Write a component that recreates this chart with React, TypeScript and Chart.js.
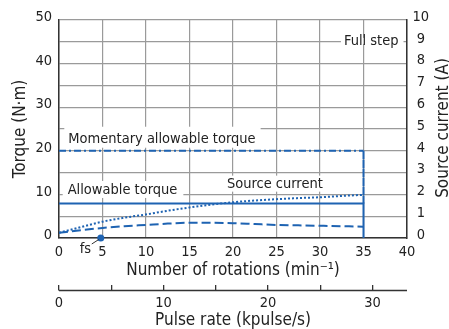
import React, { useEffect, useRef } from 'react';
import { Chart, registerables } from 'chart.js';

Chart.register(...registerables);

// ---- data ----
const rotations = [0, 2.5, 5, 7.5, 10, 12.5, 15, 17.5, 20, 22.5, 25, 27.5, 30, 32.5, 35];
const fullStepTorque = [1.2, 1.8, 2.3, 2.7, 3.0, 3.3, 3.5, 3.5, 3.4, 3.2, 3.0, 2.9, 2.8, 2.7, 2.6];
const sourceCurrent = [0.24, 0.5, 0.75, 0.93, 1.08, 1.25, 1.4, 1.53, 1.64, 1.72, 1.78, 1.83, 1.87, 1.93, 1.98];
const momentaryTorque = 20;
const allowableTorque = 7.9;
const maxRotation = 35;
const fsRotation = 4.8;
const torqueMax = 50;
const currentMax = 10;
const rotationMax = 40;
const pulseRateMax = 33.3;

const BLUE = '#1e63b2';
const TEXT = '#222222';
const GRID = '#9a9a9a';
const AXIS = '#333333';
const FONT = '"Liberation Sans Narrow", "DejaVu Sans Condensed", "Roboto Condensed", Roboto, sans-serif';

const annotationPlugin = {
  id: 'annotations',
  afterDatasetsDraw(chart: any) {
    const { ctx } = chart;
    const xs = chart.scales.x;
    const ys = chart.scales.y;
    const labels = [
      { text: 'Momentary allowable torque', x: 1.07, y: 21.85, box: [-4, -16, 5, 5] },
      { text: 'Allowable torque', x: 1.0, y: 10.1, box: [-5, -13, 6, 4] },
      { text: 'Source current', x: 19.3, y: 11.55, box: [-4, -12, 4, 4] },
      { text: 'Full step', x: 32.75, y: 44.3, box: [-3, -7, 5, -1] },
    ];
    ctx.save();
    ctx.font = `14.5px ${FONT}`;
    ctx.textBaseline = 'alphabetic';
    ctx.textAlign = 'left';
    for (const l of labels) {
      const px = xs.getPixelForValue(l.x);
      const py = ys.getPixelForValue(l.y);
      const w = ctx.measureText(l.text).width;
      ctx.fillStyle = '#ffffff';
      ctx.fillRect(px + l.box[0], py + l.box[1], w - l.box[0] + l.box[2], l.box[3] - l.box[1]);
      ctx.fillStyle = TEXT;
      ctx.fillText(l.text, px, py);
    }
    // fs label with leader line
    const fx = xs.getPixelForValue(fsRotation);
    const fy = ys.getPixelForValue(0);
    ctx.strokeStyle = AXIS;
    ctx.lineWidth = 1;
    ctx.beginPath();
    ctx.moveTo(fx - 2, fy + 1.5);
    ctx.lineTo(fx - 9, fy + 6);
    ctx.stroke();
    ctx.fillStyle = TEXT;
    ctx.fillText('fs', fx - 21, fy + 15);
    ctx.restore();
  },
  afterDraw(chart: any) {
    const { ctx, chartArea } = chart;
    const x2 = chart.scales.x2;
    ctx.save();
    // pulse-rate axis line (ticks point upward)
    ctx.strokeStyle = AXIS;
    ctx.lineWidth = 1.5;
    ctx.beginPath();
    ctx.moveTo(x2.left, x2.top + 5.5);
    ctx.lineTo(x2.right, x2.top + 5.5);
    ctx.stroke();
    // y-axis titles (both read bottom to top)
    const cy = (chartArea.top + chartArea.bottom) / 2;
    ctx.fillStyle = TEXT;
    ctx.font = `17px ${FONT}`;
    ctx.textAlign = 'center';
    ctx.textBaseline = 'alphabetic';
    ctx.translate(25, cy);
    ctx.rotate(-Math.PI / 2);
    ctx.fillText('Torque (N·m)', 0, 0);
    ctx.restore();
    ctx.save();
    ctx.fillStyle = TEXT;
    ctx.font = `17px ${FONT}`;
    ctx.textAlign = 'center';
    ctx.textBaseline = 'alphabetic';
    ctx.translate(447.5, cy - 1);
    ctx.rotate(-Math.PI / 2);
    ctx.fillText('Source current (A)', 0, 0);
    ctx.restore();
  },
};

export default function App() {
  const ref = useRef<HTMLCanvasElement | null>(null);
  useEffect(() => {
    if (!ref.current) return;
    Chart.defaults.font.family = FONT;
    Chart.defaults.color = TEXT;
    const tickFont = { size: 14.5, family: FONT };
    const chart = new Chart(ref.current, {
      type: 'line',
      data: {
        datasets: [
          {
            label: 'Momentary allowable torque',
            data: [
              { x: 0, y: momentaryTorque },
              { x: maxRotation, y: momentaryTorque },
              { x: maxRotation, y: allowableTorque },
            ],
            borderColor: BLUE,
            borderWidth: 2,
            pointRadius: 0,
            yAxisID: 'y',
            segment: { borderDash: (c: any) => (c.p0DataIndex === 0 ? [7, 3, 2, 3] : [6, 3]) },
          },
          {
            label: 'Allowable torque',
            data: [
              { x: 0, y: allowableTorque },
              { x: maxRotation, y: allowableTorque },
              { x: maxRotation, y: 0 },
            ],
            borderColor: BLUE,
            borderWidth: 2,
            pointRadius: 0,
            yAxisID: 'y',
          },
          {
            label: 'Full step torque',
            data: rotations.map((r, i) => ({ x: r, y: fullStepTorque[i] })),
            borderColor: BLUE,
            borderWidth: 2,
            borderDash: [9, 4],
            pointRadius: 0,
            cubicInterpolationMode: 'monotone',
            yAxisID: 'y',
          },
          {
            label: 'Source current',
            data: rotations.map((r, i) => ({ x: r, y: sourceCurrent[i] })),
            borderColor: BLUE,
            borderWidth: 2,
            borderDash: [2, 2],
            pointRadius: 0,
            cubicInterpolationMode: 'monotone',
            yAxisID: 'y1',
          },
          {
            label: 'fs',
            data: [{ x: fsRotation, y: 0 }],
            showLine: false,
            pointRadius: 3.5,
            pointBackgroundColor: BLUE,
            pointBorderWidth: 0,
            yAxisID: 'y',
            clip: false,
          },
        ],
      },
      options: {
        animation: false,
        responsive: false,
        devicePixelRatio: 1,
        layout: { padding: { top: 20, left: 0, right: 0, bottom: 0 } },
        plugins: { legend: { display: false }, tooltip: { enabled: false } },
        scales: {
          x: {
            type: 'linear',
            position: 'bottom',
            min: 0,
            max: rotationMax,
            afterFit: (s: any) => { s.height = 47; },
            ticks: { stepSize: 5, autoSkip: false, maxRotation: 0, padding: 6, font: tickFont, color: TEXT },
            grid: { color: GRID, lineWidth: 1.2, drawTicks: false },
            border: { display: true, color: AXIS, width: 1.5 },
            title: {
              display: true,
              text: 'Number of rotations (min⁻¹)',
              font: { size: 17, family: FONT },
              color: TEXT,
              padding: { top: 0, bottom: 3.8 },
            },
          },
          x2: {
            type: 'linear',
            position: 'bottom',
            min: 0,
            max: pulseRateMax,
            afterFit: (s: any) => { s.height = 44; },
            ticks: {
              stepSize: 5,
              includeBounds: false,
              autoSkip: false,
              maxRotation: 0,
              padding: 4,
              font: tickFont,
              color: TEXT,
              callback: (v: any) => (Number(v) % 10 === 0 ? String(v) : ''),
            },
            grid: { drawOnChartArea: false, drawTicks: true, tickLength: 5.5, color: AXIS, lineWidth: 1.3 },
            border: { display: false },
            title: {
              display: true,
              text: 'Pulse rate (kpulse/s)',
              font: { size: 17, family: FONT },
              color: TEXT,
              padding: { top: 0, bottom: -2.2 },
            },
          },
          y: {
            type: 'linear',
            position: 'left',
            min: 0,
            max: torqueMax,
            afterFit: (s: any) => { s.width = 59; },
            ticks: {
              stepSize: 5,
              autoSkip: false,
              padding: 7,
              labelOffset: -2.5,
              font: tickFont,
              color: TEXT,
              callback: (v: any) => (Number(v) % 10 === 0 ? String(v) : ''),
            },
            grid: { color: GRID, lineWidth: 1.2, drawTicks: false },
            border: { display: true, color: AXIS, width: 1.5 },
          },
          y1: {
            type: 'linear',
            position: 'right',
            min: 0,
            max: currentMax,
            afterFit: (s: any) => { s.width = 42; },
            ticks: {
              stepSize: 1,
              autoSkip: false,
              padding: 5.5,
              crossAlign: 'center',
              labelOffset: -3,
              font: tickFont,
              color: TEXT,
            },
            grid: { drawOnChartArea: false, drawTicks: false },
            border: { display: true, color: AXIS, width: 1.5 },
          },
        },
      },
      plugins: [annotationPlugin],
    } as any);
    return () => chart.destroy();
  }, []);
  return (
    <div style={{ position: 'fixed', left: 0, top: 0, width: 449, height: 329, background: '#fff' }}>
      <canvas ref={ref} width={449} height={329} style={{ display: 'block', width: 449, height: 329 }} />
    </div>
  );
}
